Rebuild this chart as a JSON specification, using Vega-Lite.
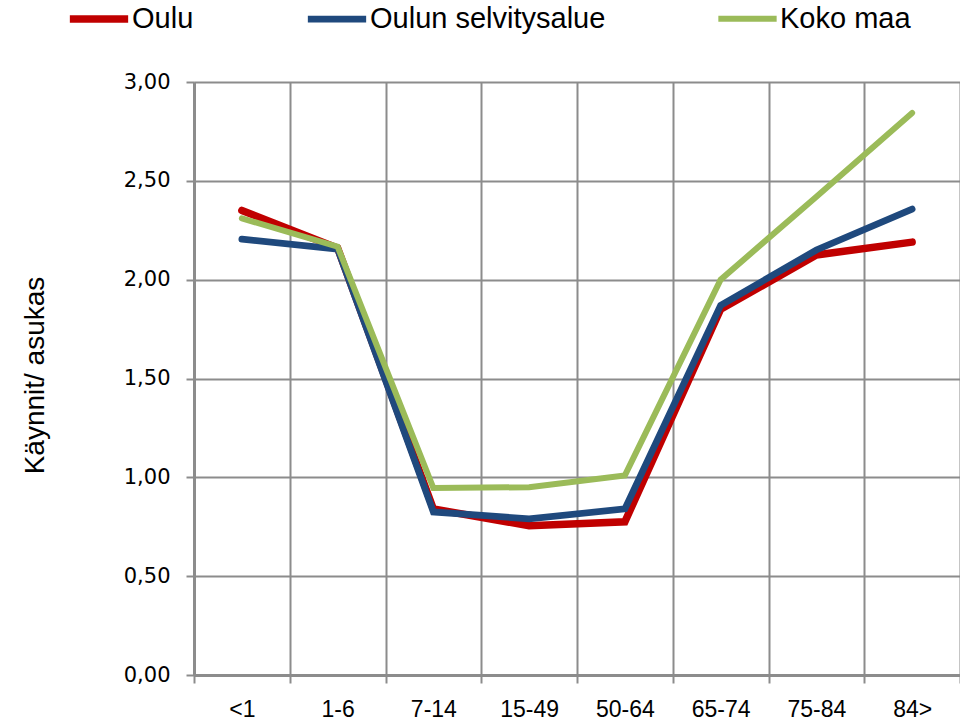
{
  "$schema": "https://vega.github.io/schema/vega-lite/v6.json",
  "autosize": {"type": "none"},
  "padding": {"left": 194, "top": 82, "right": 0, "bottom": 48},
  "width": 766,
  "height": 593,
  "background": "white",
  "data": {
    "values": [
      {"ika": "<1", "sarja": "Oulu", "arvo": 2.35},
      {"ika": "1-6", "sarja": "Oulu", "arvo": 2.16},
      {"ika": "7-14", "sarja": "Oulu", "arvo": 0.84},
      {"ika": "15-49", "sarja": "Oulu", "arvo": 0.755},
      {"ika": "50-64", "sarja": "Oulu", "arvo": 0.775},
      {"ika": "65-74", "sarja": "Oulu", "arvo": 1.85},
      {"ika": "75-84", "sarja": "Oulu", "arvo": 2.125},
      {"ika": "84>", "sarja": "Oulu", "arvo": 2.19},
      {"ika": "<1", "sarja": "Oulun selvitysalue", "arvo": 2.205},
      {"ika": "1-6", "sarja": "Oulun selvitysalue", "arvo": 2.155},
      {"ika": "7-14", "sarja": "Oulun selvitysalue", "arvo": 0.825},
      {"ika": "15-49", "sarja": "Oulun selvitysalue", "arvo": 0.79},
      {"ika": "50-64", "sarja": "Oulun selvitysalue", "arvo": 0.84},
      {"ika": "65-74", "sarja": "Oulun selvitysalue", "arvo": 1.87},
      {"ika": "75-84", "sarja": "Oulun selvitysalue", "arvo": 2.15},
      {"ika": "84>", "sarja": "Oulun selvitysalue", "arvo": 2.357},
      {"ika": "<1", "sarja": "Koko maa", "arvo": 2.31},
      {"ika": "1-6", "sarja": "Koko maa", "arvo": 2.167},
      {"ika": "7-14", "sarja": "Koko maa", "arvo": 0.946},
      {"ika": "15-49", "sarja": "Koko maa", "arvo": 0.95},
      {"ika": "50-64", "sarja": "Koko maa", "arvo": 1.01},
      {"ika": "65-74", "sarja": "Koko maa", "arvo": 2.0},
      {"ika": "75-84", "sarja": "Koko maa", "arvo": 2.42},
      {"ika": "84>", "sarja": "Koko maa", "arvo": 2.843}
    ]
  },
  "mark": {"type": "line", "strokeCap": "round", "strokeJoin": "miter"},
  "encoding": {
    "x": {
      "field": "ika",
      "type": "ordinal",
      "sort": ["<1", "1-6", "7-14", "15-49", "50-64", "65-74", "75-84", "84>"],
      "scale": {"type": "band", "paddingInner": 0, "paddingOuter": 0},
      "axis": {
        "title": null,
        "tickBand": "extent",
        "labelAngle": 0,
        "labelFont": "Liberation Sans",
        "labelFontSize": 23,
        "labelColor": "#000000",
        "labelPadding": 15,
        "tickSize": 8,
        "tickColor": "#8c8c8c",
        "tickWidth": 2,
        "domainColor": "#8c8c8c",
        "domainWidth": 3,
        "grid": true,
        "gridColor": "#8c8c8c",
        "gridWidth": 2,
        "gridOpacity": 1
      }
    },
    "y": {
      "field": "arvo",
      "type": "quantitative",
      "scale": {"domain": [0, 3], "nice": false},
      "axis": {
        "title": "Käynnit/ asukas",
        "titleFont": "Liberation Sans",
        "titleFontSize": 28,
        "titleFontWeight": "normal",
        "titleColor": "#000000",
        "titleAngle": -90,
        "titleX": -159,
        "titleY": 293,
        "titleAlign": "center",
        "titleBaseline": "middle",
        "values": [0, 0.5, 1, 1.5, 2, 2.5, 3],
        "labelExpr": "replace(format(datum.value, '.2f'), '.', ',')",
        "labelFont": "DejaVu Sans",
        "labelFontSize": 21,
        "labelColor": "#000000",
        "labelPadding": 16,
        "tickSize": 8,
        "tickColor": "#8c8c8c",
        "tickWidth": 2,
        "domainColor": "#8c8c8c",
        "domainWidth": 3,
        "grid": true,
        "gridColor": "#8c8c8c",
        "gridWidth": 2,
        "gridOpacity": 1
      }
    },
    "color": {
      "field": "sarja",
      "type": "nominal",
      "sort": ["Oulu", "Oulun selvitysalue", "Koko maa"],
      "scale": {
        "domain": ["Oulu", "Oulun selvitysalue", "Koko maa"],
        "range": ["#c00000", "#1f497d", "#9bbb59"]
      },
      "legend": {
        "title": null,
        "orient": "none",
        "direction": "horizontal",
        "legendX": -128,
        "legendY": -96,
        "symbolType": "stroke",
        "symbolStrokeWidth": 8,
        "symbolSize": 3400,
        "labelFont": "Liberation Sans",
        "labelFontSize": 29,
        "labelColor": "#000000",
        "labelOffset": 0,
        "columnPadding": 100,
        "labelLimit": 400
      }
    },
    "strokeWidth": {
      "field": "sarja",
      "type": "nominal",
      "scale": {
        "domain": ["Oulu", "Oulun selvitysalue", "Koko maa"],
        "range": [7.5, 6, 5]
      },
      "legend": null
    }
  },
  "config": {
    "view": {"stroke": null}
  }
}
